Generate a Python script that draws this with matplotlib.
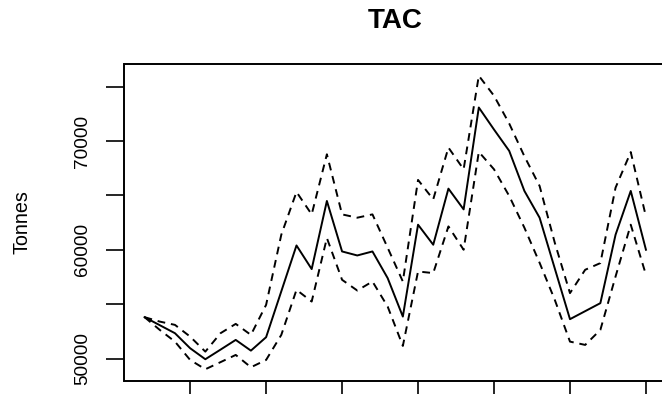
import matplotlib
matplotlib.use("Agg")
import matplotlib.pyplot as plt

plt.rcParams['font.family'] = ['Liberation Sans', 'DejaVu Sans']

# years and TAC (tonnes) with upper / lower bounds
years = list(range(1977, 2011))
tac = [53813, 53076, 52339, 50958, 49945, 50829, 51722, 50737, 51971, 56189,
       60407, 58234, 64497, 59855, 59486, 59855, 57405, 53868, 62314, 60472,
       65630, 63723, 73089, 71063, 69101, 65418, 62959, 58289, 53629, 54366,
       55102, 61393, 65418, 60011]
upper = [53813, 53408, 53104, 52026, 50645, 52339, 53196, 52183, 54946, 61393,
         65325, 63262, 68788, 63262, 62958, 63262, 60195, 57092, 66431, 64644,
         69405, 67407, 76009, 74167, 71616, 68604, 65878, 60656, 56023, 58169,
         58786, 65721, 68991, 63051]
lower = [53813, 52643, 51566, 49880, 49024, 49678, 50341, 49208, 49880, 52183,
         56327, 55250, 61089, 57248, 56263, 57092, 54789, 51170, 58013, 57865,
         62157, 60011, 69009, 67407, 64957, 62037, 58814, 55406, 51566, 51262,
         52643, 57552, 62314, 57709]

xticks = [1980, 1985, 1990, 1995, 2000, 2005, 2010]
yticks = [50000, 55000, 60000, 65000, 70000, 75000]
ytick_labels = ['50000', '', '60000', '', '70000', '']

fig = plt.figure(figsize=(6.62, 3.94), dpi=100)
ax = fig.add_axes([124.5 / 662, 13 / 394, 541.5 / 662, 317 / 394])

ax.plot(years, tac, color='black', lw=1.4)
ax.plot(years, upper, color='black', lw=1.4, dashes=(4, 3))
ax.plot(years, lower, color='black', lw=1.4, dashes=(4, 3))
ax.margins(0.04)

ax.set_xticks(xticks)
ax.set_xticklabels([])
ax.set_yticks(yticks)
ax.set_yticklabels(ytick_labels, rotation=90, va='center', fontsize=13.7)
ax.tick_params(axis='both', length=12.7, width=1.2, color='black')
ax.tick_params(axis='y', pad=11.5)

for s in ax.spines.values():
    s.set_linewidth(1.4)

ax.set_ylabel('Tonnes', fontsize=14.2, va='center')
ax.yaxis.set_label_coords((22 - 124.5) / 541.5, 0.5)
ax.set_title('TAC', fontsize=20, fontweight='bold', pad=25.7)

fig.savefig('out.png', dpi=100)
